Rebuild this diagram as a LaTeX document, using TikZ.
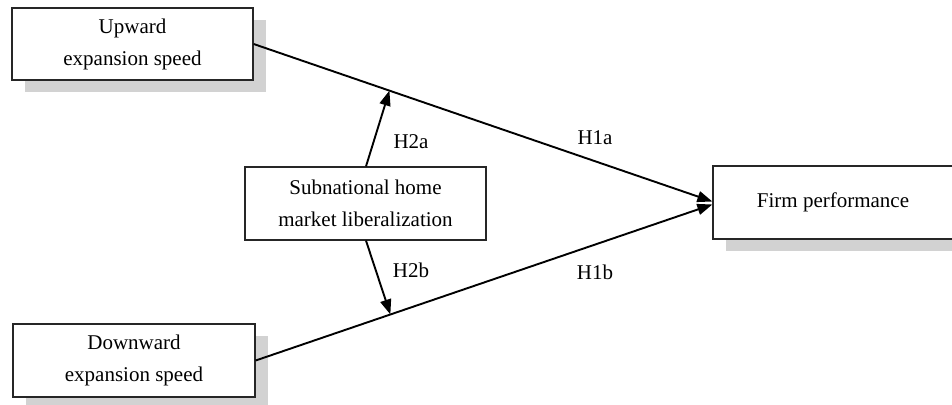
\documentclass[tikz,border=0pt]{standalone}
\usepackage{fontspec}
\setmainfont{Liberation Serif}
\usetikzlibrary{arrows.meta,shadows}
\definecolor{shadowgray}{RGB}{210,210,210}
\begin{document}
\begin{tikzpicture}[x=1pt,y=-1pt,
  box/.style={draw=black!85,line width=1.3pt,fill=white,inner sep=0pt,align=center,
    font=\fontsize{21}{32}\selectfont,minimum height=73pt},
  shadowbox/.style={box,drop shadow={shadow xshift=13pt,shadow yshift=-12pt,fill=shadowgray,opacity=1}},
  lbl/.style={font=\fontsize{21}{25}\selectfont,inner sep=0pt},
  conn/.style={line width=1.9pt,-{Triangle[length=15pt,width=11pt]}}]
\useasboundingbox (0,0) rectangle (952,404);
\node[shadowbox,minimum width=241pt,minimum height=72pt] (up) at (132.5,44) {Upward\\expansion speed};
\node[shadowbox,minimum width=242pt] (down) at (134,360.5) {Downward\\expansion speed};
\node[shadowbox,minimum width=240pt] (firm) at (833,202.5) {\raisebox{4pt}{Firm performance}};
\node[box,minimum width=241pt] (sub) at (365.5,203.5) {Subnational home\\market liberalization};
% connectors
\coordinate (fa) at ([yshift=1pt]firm.west);
\coordinate (fb) at ([yshift=-2pt]firm.west);
\draw[conn] (up.east) -- (fa) coordinate[pos=0.296] (ma);
\draw[conn] (down.east) -- (fb) coordinate[pos=0.295] (mb);
\draw[conn] ([xshift=0.5pt]sub.north) -- (ma);
\draw[conn] ([xshift=0.5pt]sub.south) -- (mb);
% labels
\node[lbl] (h2a) at (411,142) {H2a};
\node[lbl] (h1a) at (595,138) {H1a};
\node[lbl] (h2b) at (411,270) {H2b};
\node[lbl] (h1b) at (595,272) {H1b};
\end{tikzpicture}
\end{document}
